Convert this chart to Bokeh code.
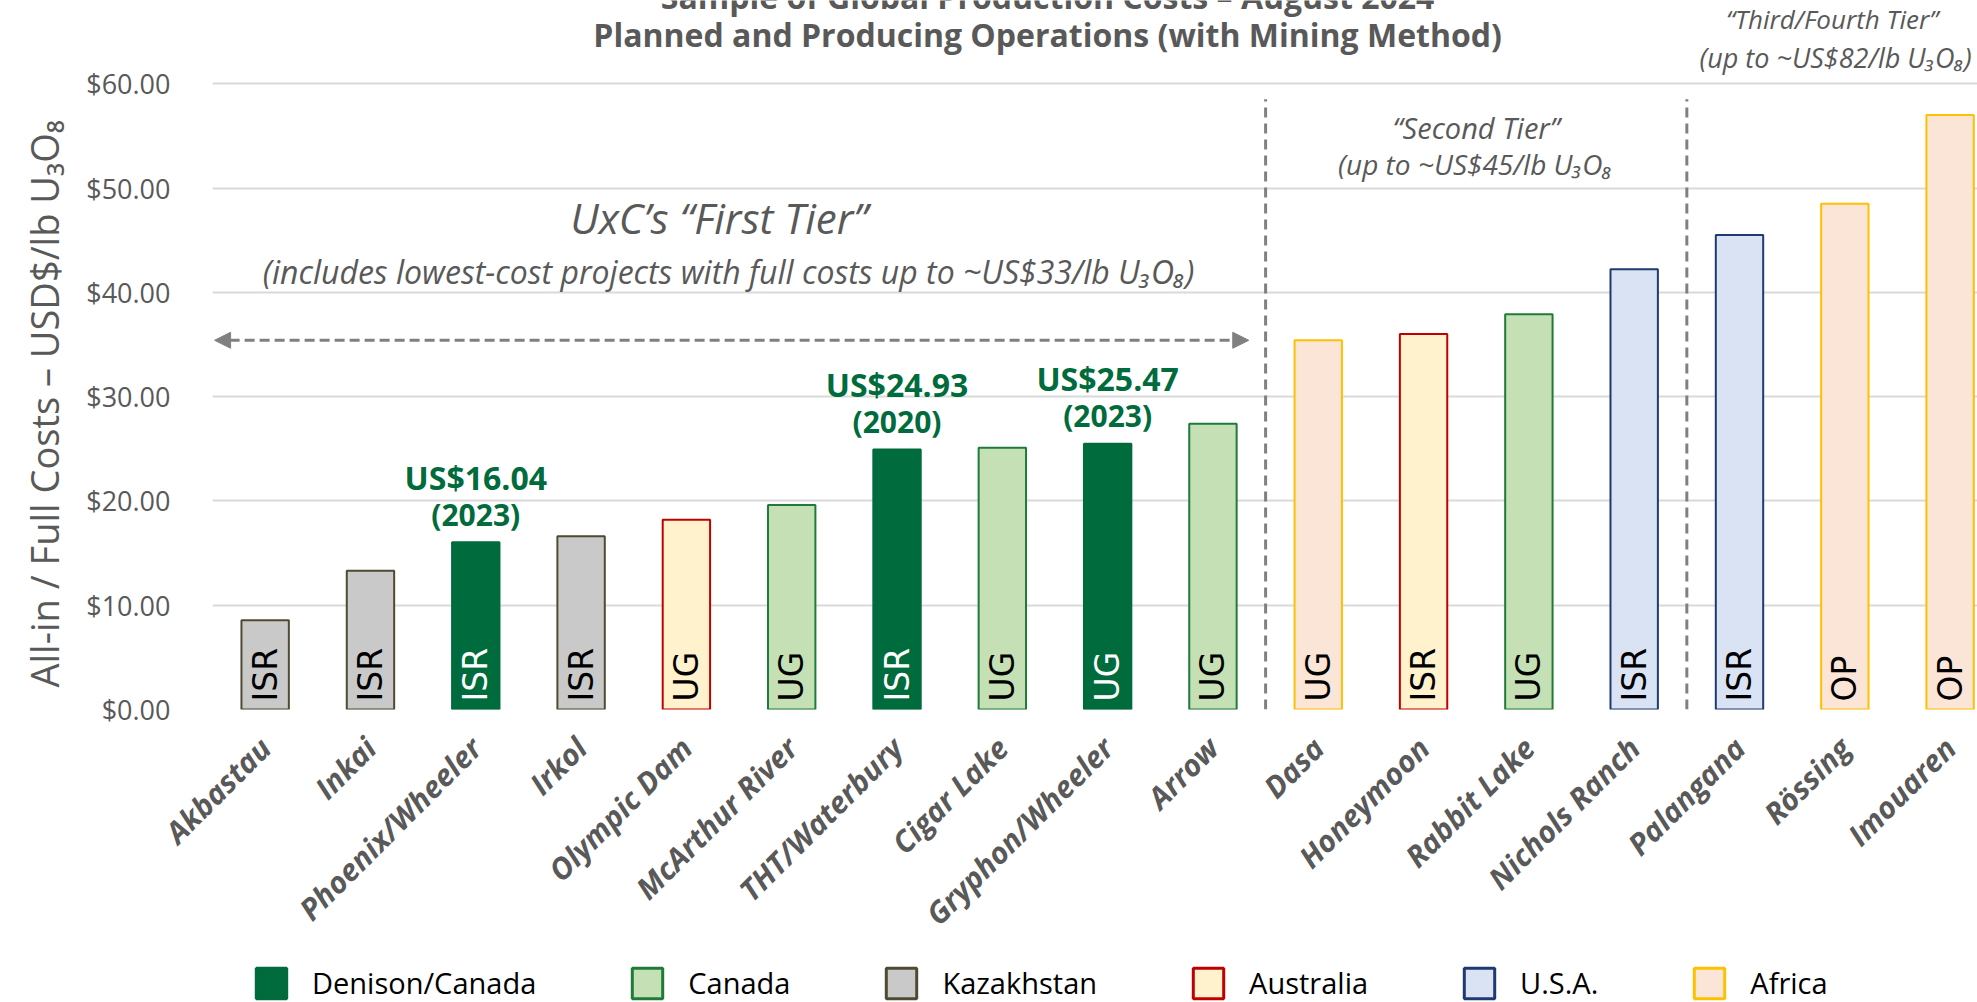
import numpy as np
from math import pi
from bokeh.plotting import figure
from bokeh.layouts import column
from bokeh.models import (ColumnDataSource, Range1d, FixedTicker, NumeralTickFormatter,
                          Legend, LegendItem, Title, Arrow, NormalHead, CDSView, GroupFilter)
from bokeh.core.properties import value
from bokeh.embed import file_html
from bokeh.resources import INLINE

# ---------------- data ----------------
mines = ["Akbastau", "Inkai", "Phoenix/Wheeler", "Irkol", "Olympic Dam", "McArthur River",
         "THT/Waterbury", "Cigar Lake", "Gryphon/Wheeler", "Arrow", "Dasa", "Honeymoon",
         "Rabbit Lake", "Nichols Ranch", "Palangana", "Rössing", "Imouaren"]
costs = [8.55, 13.3, 16.04, 16.6, 18.2, 19.6, 24.93, 25.1, 25.47, 27.4, 35.4, 36.0,
         37.9, 42.2, 45.5, 48.5, 57.0]
methods = ["ISR", "ISR", "ISR", "ISR", "UG", "UG", "ISR", "UG", "UG", "UG", "UG", "ISR",
           "UG", "ISR", "ISR", "OP", "OP"]
regions = ["Kazakhstan", "Kazakhstan", "Denison/Canada", "Kazakhstan", "Australia", "Canada",
           "Denison/Canada", "Canada", "Denison/Canada", "Canada", "Africa", "Australia",
           "Canada", "U.S.A.", "U.S.A.", "Africa", "Africa"]
tiers = ["First", "First", "First", "First", "First", "First", "First", "First", "First",
         "First", "Second", "Second", "Second", "Second", "Third/Fourth", "Third/Fourth",
         "Third/Fourth"]

legend_regions = ["Denison/Canada", "Canada", "Kazakhstan", "Australia", "U.S.A.", "Africa"]
region_fill = ["#006B3C", "#C5E0B4", "#C9C9C9", "#FFF2CC", "#DAE3F3", "#FBE5D6"]
region_line = ["#006B3C", "#1E7B3A", "#4F4A32", "#C00000", "#1F3A70", "#FFC000"]

callout_mines = ["Phoenix/Wheeler", "THT/Waterbury", "Gryphon/Wheeler"]
callout_values = ["US$16.04", "US$24.93", "US$25.47"]
callout_years = ["(2023)", "(2020)", "(2023)"]

yticks = [0, 10, 20, 30, 40, 50, 60]

GRAY = "#595959"
DGREEN = "#006B3C"

# ---------------- sources ----------------
n = len(mines)
xs = list(range(n))
src = ColumnDataSource(dict(
    x=xs, cost=costs, method=methods, region=regions,
    tcol=["white" if r == "Denison/Canada" else "black" for r in regions],
))

ci = [mines.index(m) for m in callout_mines]
csrc = ColumnDataSource(dict(x=ci, y=[costs[i] for i in ci], val=callout_values, yr=callout_years))

# ---------------- main figure ----------------
p = figure(width=1977, height=960, x_range=Range1d(-0.5, 16.26), y_range=Range1d(0, 67.98),
           output_backend="svg", toolbar_location=None,
           min_border_left=212, min_border_right=0, min_border_top=0, min_border_bottom=251)
p.outline_line_color = None
p.background_fill_color = "white"
p.xgrid.grid_line_color = None
p.ygrid.ticker = FixedTicker(ticks=yticks)
p.ygrid.grid_line_color = "#D9D9D9"
p.ygrid.grid_line_width = 2

# y axis
p.yaxis.ticker = FixedTicker(ticks=yticks)
p.yaxis.formatter = NumeralTickFormatter(format="$0.00")
p.yaxis.axis_line_color = None
p.yaxis.major_tick_line_color = None
p.yaxis.minor_tick_line_color = None
p.yaxis.major_tick_out = 0
p.yaxis.major_label_standoff = 42
p.yaxis.major_label_text_font = "Open Sans"
p.yaxis.major_label_text_font_size = "27px"
p.yaxis.major_label_text_color = GRAY

# x axis
p.xaxis.ticker = FixedTicker(ticks=xs)
p.xaxis.major_label_overrides = {i: m for i, m in enumerate(mines)}
p.xaxis.major_label_orientation = pi / 4
p.xaxis.axis_line_color = None
p.xaxis.major_tick_line_color = None
p.xaxis.minor_tick_line_color = None
p.xaxis.major_tick_out = 0
p.xaxis.major_label_standoff = 33
p.xaxis.major_label_text_font = "Open Sans"
p.xaxis.major_label_text_font_style = "bold italic"
p.xaxis.major_label_text_font_size = "30px"
p.xaxis.major_label_text_color = GRAY

# y axis title
p.add_layout(Title(text="All-in / Full Costs – USD$/lb U₃O₈", align="left", offset=22,
                   text_font="Open Sans", text_font_size="38px", text_font_style="normal",
                   text_color=GRAY, standoff=28), "left")

# tier boundaries (dashed)
bounds = [i - 0.5 for i in range(1, n) if tiers[i] != tiers[i - 1]]
p.segment(x0=bounds, y0=[0] * len(bounds), x1=bounds, y1=[58.5] * len(bounds),
          line_color="#808080", line_width=3, line_dash="10 6")

# bars per region
for r, fc, lc in zip(legend_regions, region_fill, region_line):
    view = CDSView(filter=GroupFilter(column_name="region", group=r))
    p.vbar(x="x", top="cost", width=0.45, source=src, view=view,
           fill_color=fc, line_color=lc, line_width=2)

# mining method inside bars
p.text(x="x", y=0, text="method", source=src, angle=pi / 2, y_offset=-8,
       text_align="left", text_baseline="middle", text_color="tcol",
       text_font=value("DejaVu Sans"), text_font_size="33px")

# callouts
p.text(x="x", y="y", text="yr", source=csrc, y_offset=-28, text_align="center",
       text_baseline="middle", text_color=DGREEN, text_font=value("Open Sans"),
       text_font_style="bold", text_font_size="30px")
p.text(x="x", y="y", text="val", source=csrc, y_offset=-65, text_align="center",
       text_baseline="middle", text_color=DGREEN, text_font=value("Open Sans"),
       text_font_style="bold", text_font_size="32px")

# first tier arrow
first_end = bounds[0]
p.add_layout(Arrow(x_start=-0.48, y_start=35.4, x_end=first_end - 0.16, y_end=35.4,
                   line_color="#808080", line_width=3, line_dash="10 5",
                   start=NormalHead(size=16, fill_color="#808080", line_color="#808080"),
                   end=NormalHead(size=16, fill_color="#808080", line_color="#808080")))

# tier texts
def txt(x, y, s, size, style="italic", align="center", color=GRAY):
    p.text(x=[x], y=[y], text=[s], text_align=align, text_baseline="middle",
           text_color=color, text_font=value("Open Sans"), text_font_style=style,
           text_font_size=size)

txt(4.31, 47.2, "UxC’s “First Tier”", "42px")
txt(4.40, 42.0, "(includes lowest-cost projects with full costs up to ~US$33/lb U₃O₈)", "32px")
txt(11.50, 55.8, "“Second Tier”", "29px")
txt(11.49, 52.3, "(up to ~US$45/lb U₃O₈", "28px")
txt(14.88, 66.2, "“Third/Fourth Tier”", "26px")
txt(13.62, 62.5, "(up to ~US$82/lb U₃O₈)", "27px", align="left")

# chart title
txt(7.43, 68.4, "Sample of Global Production Costs – August 2024", "32px", style="bold")
txt(7.43, 64.7, "Planned and Producing Operations (with Mining Method)", "32px", style="bold")

# ---------------- legend strip ----------------
# hidden copies of the bars feed the legend swatches
p2 = figure(width=1977, height=42, x_range=Range1d(1000, 2000), y_range=Range1d(-1000, -958),
            output_backend="svg", toolbar_location=None, x_axis_location=None,
            y_axis_location=None, min_border=0)
p2.outline_line_color = None
p2.grid.visible = False
items = []
for r, fc, lc in zip(legend_regions, region_fill, region_line):
    view = CDSView(filter=GroupFilter(column_name="region", group=r))
    rend = p2.vbar(x="x", top="cost", width=0.45, source=src, view=view,
                   fill_color=fc, line_color=lc, line_width=3, visible=False)
    items.append(LegendItem(label=r, renderers=[rend]))
legend = Legend(items=items, orientation="horizontal", location=(40, 0),
                glyph_width=38, glyph_height=38, label_height=38, label_standoff=22,
                spacing=92, padding=0, margin=0, border_line_color=None,
                background_fill_alpha=0, label_text_font="Open Sans",
                inactive_fill_alpha=0, click_policy="none",
                label_text_font_size="29px", label_text_color="#000000")
p2.add_layout(legend)

open("out.html", "w").write(file_html(column(p, p2), INLINE))
